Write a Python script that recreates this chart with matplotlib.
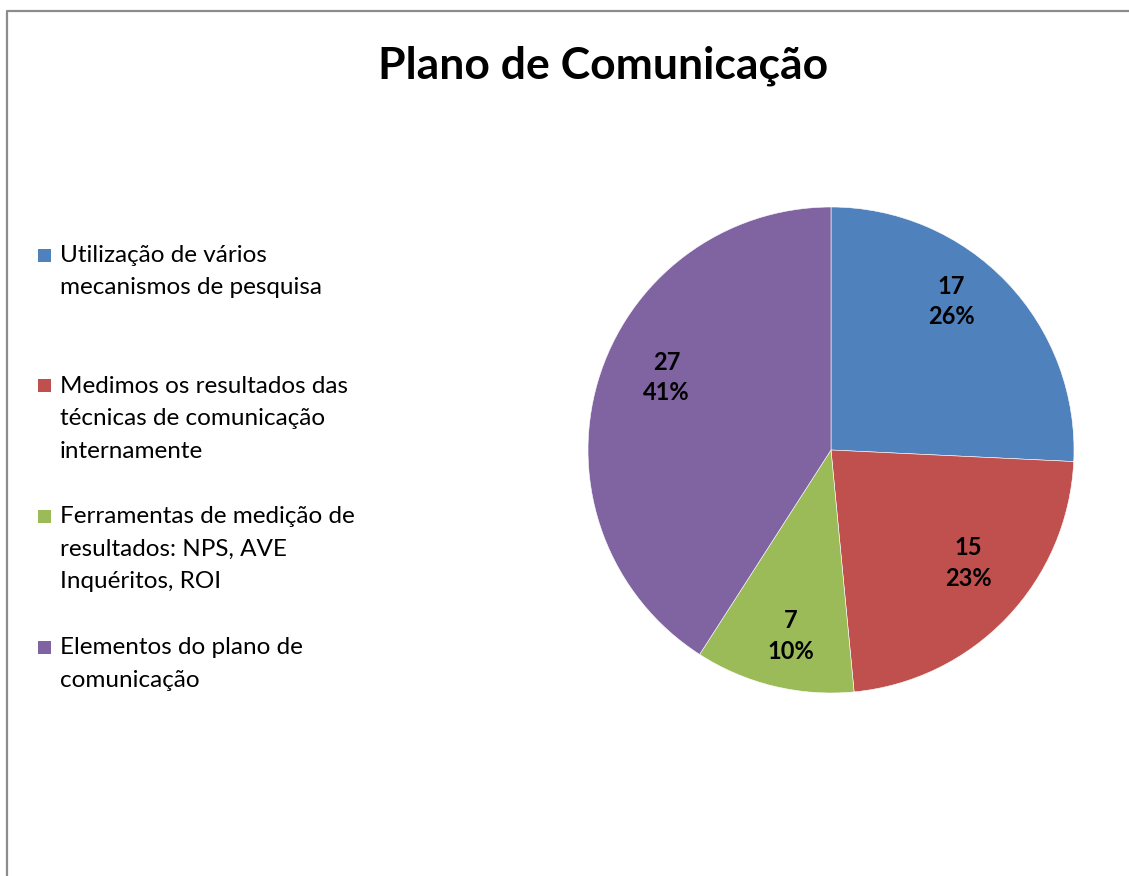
import matplotlib
matplotlib.use("Agg")
import matplotlib.pyplot as plt
from matplotlib.patches import Rectangle
from matplotlib.lines import Line2D
import numpy as np

# ---- data ----
categories = [
    "Utilização de vários\nmecanismos de pesquisa",
    "Medimos os resultados das\ntécnicas de comunicação\ninternamente",
    "Ferramentas de medição de\nresultados: NPS, AVE\nInquéritos, ROI",
    "Elementos do plano de\ncomunicação",
]
values = [17, 15, 7, 27]
percents = [26, 23, 10, 41]
colors = ["#4F81BD", "#C0504D", "#9BBB59", "#8064A2"]
title = "Plano de Comunicação"

FONT = ["Lato", "DejaVu Sans"]
plt.rcParams["font.family"] = FONT

W, H = 1129, 876
fig = plt.figure(figsize=(W / 100, H / 100), dpi=100)
fig.patch.set_facecolor("white")

# outer border (left and top)
fig.add_artist(Line2D([7 / W, 7 / W, 1.0], [0.0, 1 - 11 / H, 1 - 11 / H],
                      transform=fig.transFigure, color="#8C8C8C", lw=1.6))

# title
fig.text(603 / W, 1 - 66 / H, title, ha="center", va="center",
         fontsize=32, fontweight="bold", color="black")

# pie axes
cx, cy, r = 831, 450, 243
ax = fig.add_axes([(cx - r) / W, (H - cy - r) / H, 2 * r / W, 2 * r / H])
wedges, _ = ax.pie(values, colors=colors, startangle=90, counterclock=False,
                   radius=1.0, wedgeprops=dict(edgecolor="white", linewidth=0.4))
ax.set_xlim(-1, 1)
ax.set_ylim(-1, 1)
ax.set_aspect("equal")
ax.axis("off")

# label placement tweaks (best-fit style): angle nudge in degrees, radial distance
ang_nudge = [7.4, 4.1, 1.4, -7.4]
dist = [0.786, 0.731, 0.783, 0.739]
for w, v, p, dn, d in zip(wedges, values, percents, ang_nudge, dist):
    ang = np.deg2rad((w.theta1 + w.theta2) / 2 + dn)
    ax.text(d * np.cos(ang), d * np.sin(ang), f"{v}\n{p}%", ha="center", va="center",
            fontsize=17, fontweight="bold", color="black", linespacing=1.38)

# legend (manual, marker aligned with first line)
entry_step = 130.7
line_px = 32.5
y = 255
for cat, col in zip(categories, colors):
    fig.add_artist(Rectangle((38 / W, 1 - (y + 6.5) / H), 13 / W, 13 / H,
                             transform=fig.transFigure, facecolor=col, edgecolor="none"))
    for i, line in enumerate(cat.split("\n")):
        fig.text(60 / W, 1 - (y + 7 + i * line_px) / H, line, ha="left", va="baseline",
                 fontsize=17.5, color="black")
    y += entry_step

fig.savefig("out.png", dpi=100, facecolor="white")
